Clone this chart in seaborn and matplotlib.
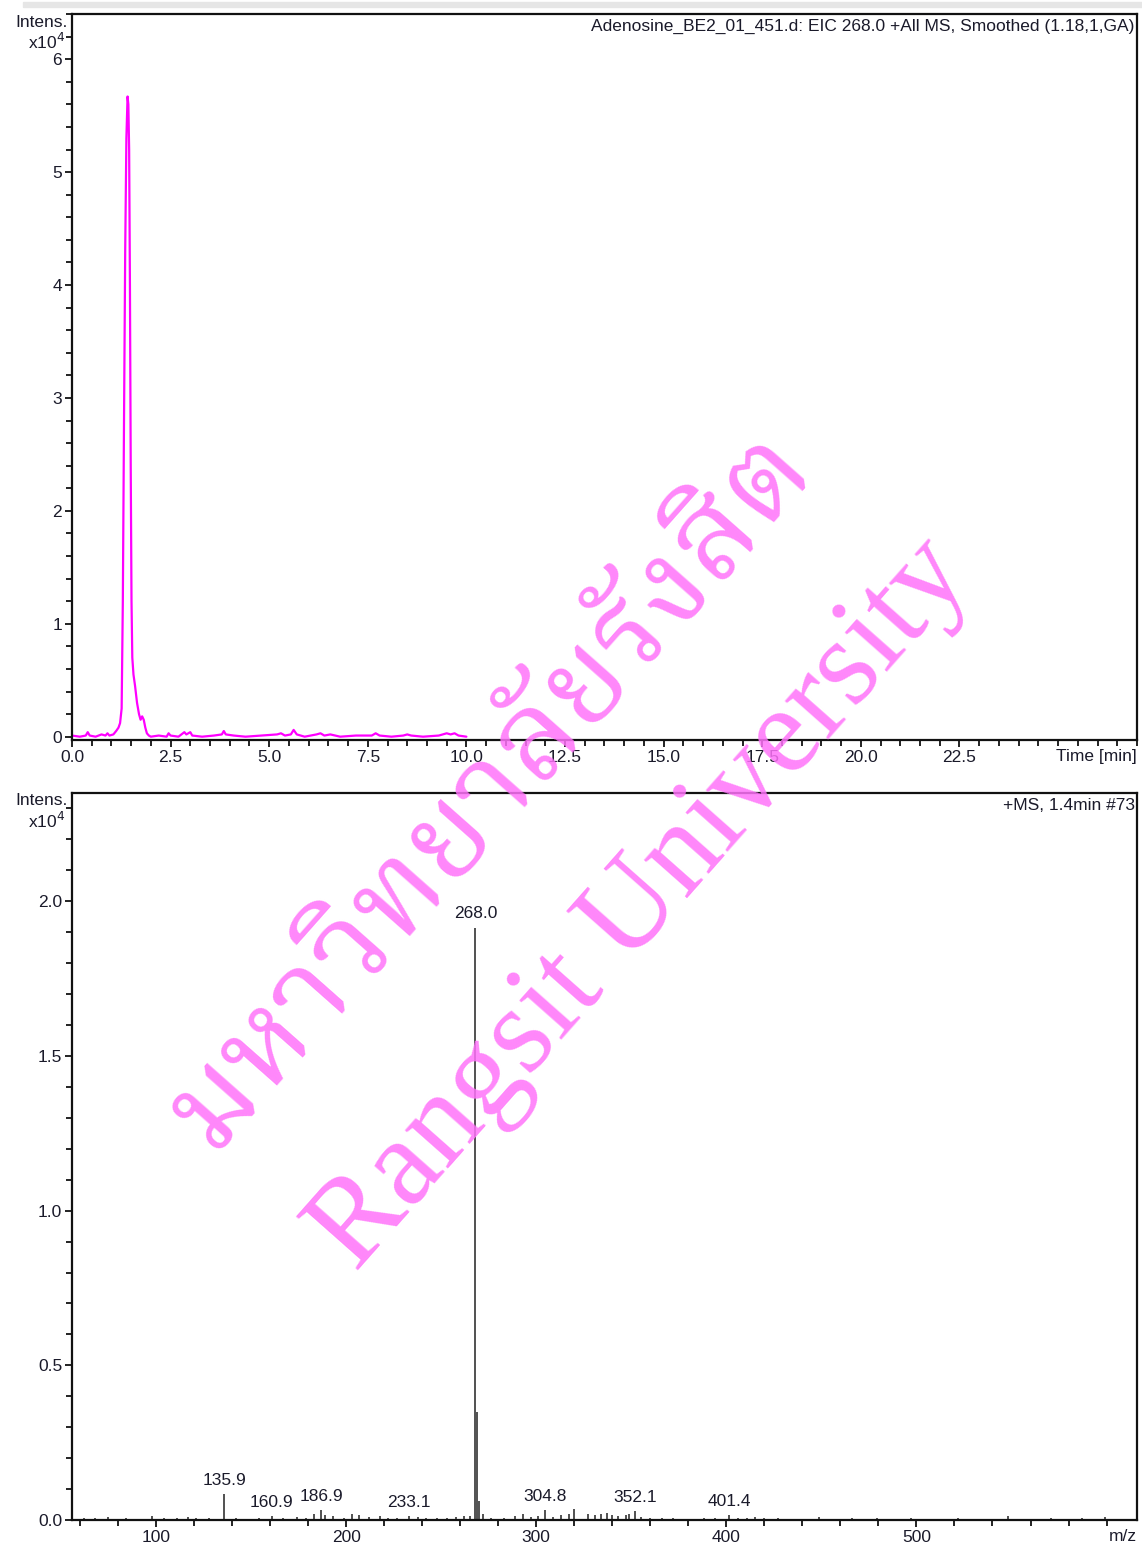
import numpy as np
import pandas as pd
import matplotlib
matplotlib.use("Agg")
import matplotlib.pyplot as plt
from matplotlib.ticker import MultipleLocator, FixedLocator
import seaborn as sns

# ---------------- data ----------------
# EIC 268.0 chromatogram (intensity x10^4)
eic_time = [0.00, 0.20, 0.35, 0.40, 0.45, 0.60, 0.75, 0.85, 0.90, 0.95, 1.05, 1.12,
            1.18, 1.22, 1.26, 1.29, 1.32, 1.35, 1.38, 1.41, 1.43, 1.45, 1.47, 1.49,
            1.51, 1.53, 1.56, 1.60, 1.65, 1.70, 1.74, 1.78, 1.82, 1.86, 1.90, 1.95,
            2.00, 2.20, 2.40, 2.45, 2.50, 2.70, 2.85, 2.90, 3.00, 3.05, 3.30, 3.60,
            3.80, 3.85, 3.90, 4.10, 4.40, 4.80, 5.20, 5.30, 5.40, 5.55, 5.62, 5.70,
            5.90, 6.20, 6.30, 6.40, 6.55, 6.80, 7.20, 7.60, 7.70, 7.80, 8.10, 8.40,
            8.50, 8.60, 8.90, 9.30, 9.50, 9.60, 9.70, 9.80, 10.00]
eic_int = [0.01, 0.00, 0.01, 0.04, 0.01, 0.00, 0.02, 0.01, 0.03, 0.01, 0.02, 0.05,
           0.08, 0.12, 0.25, 1.20, 2.80, 4.30, 5.30, 5.67, 5.60, 5.20, 4.00, 2.40,
           1.20, 0.70, 0.55, 0.45, 0.30, 0.20, 0.15, 0.18, 0.15, 0.08, 0.03, 0.01,
           0.00, 0.01, 0.00, 0.03, 0.01, 0.00, 0.04, 0.02, 0.04, 0.01, 0.00, 0.01,
           0.02, 0.05, 0.02, 0.01, 0.00, 0.01, 0.02, 0.03, 0.01, 0.02, 0.06, 0.02,
           0.00, 0.02, 0.03, 0.01, 0.02, 0.00, 0.01, 0.01, 0.03, 0.01, 0.00, 0.01,
           0.02, 0.01, 0.00, 0.01, 0.03, 0.02, 0.03, 0.01, 0.00]

# +MS spectrum at 1.4 min (intensity x10^4)
ms_mz = [62.0, 68.0, 75.0, 84.0, 91.0, 98.0, 104.0, 111.0, 117.0, 121.0, 128.0,
         135.9, 142.0, 148.0, 154.0, 160.9, 167.0, 174.0, 179.0, 183.0, 186.9, 189.0,
         193.0, 199.0, 203.0, 207.0, 212.0, 218.0, 222.0, 227.0, 233.1, 238.0, 242.0,
         248.0, 253.0, 258.0, 262.0, 265.0, 268.0, 268.6, 270.0, 272.0, 276.0, 283.0,
         289.0, 293.0, 297.0, 301.0, 304.8, 309.0, 313.0, 317.0, 320.0, 327.0, 331.0,
         334.0, 337.0, 340.0, 343.0, 347.0, 349.0, 352.1, 355.0, 360.0, 366.0, 372.0,
         388.0, 394.0, 401.4, 406.0, 411.0, 415.0, 420.0, 427.0, 435.0, 449.0, 466.0,
         479.0, 497.0, 522.0, 548.0, 571.0, 587.0, 599.0]
ms_int = [0.008, 0.005, 0.010, 0.006, 0.004, 0.012, 0.006, 0.005, 0.010, 0.008, 0.006,
          0.085, 0.006, 0.004, 0.008, 0.012, 0.006, 0.010, 0.008, 0.020, 0.032, 0.015,
          0.012, 0.008, 0.020, 0.015, 0.010, 0.012, 0.006, 0.008, 0.014, 0.010, 0.008,
          0.006, 0.008, 0.010, 0.014, 0.012, 1.915, 0.350, 0.060, 0.020, 0.008, 0.006,
          0.012, 0.018, 0.010, 0.012, 0.032, 0.010, 0.015, 0.020, 0.035, 0.020, 0.015,
          0.018, 0.022, 0.016, 0.012, 0.015, 0.020, 0.028, 0.010, 0.006, 0.008, 0.005,
          0.006, 0.008, 0.016, 0.008, 0.006, 0.010, 0.008, 0.006, 0.004, 0.010, 0.006,
          0.005, 0.008, 0.006, 0.012, 0.006, 0.008, 0.010]

peak_labels = ["135.9", "160.9", "186.9", "233.1", "268.0", "304.8", "352.1", "401.4"]
peak_label_y = [0.085, 0.012, 0.032, 0.014, 1.915, 0.032, 0.028, 0.016]

eic_df = pd.DataFrame({"Time": eic_time, "Intens": eic_int})

# ---------------- style ----------------
sns.set_theme(style="white")
plt.rcParams["font.family"] = ["Liberation Sans", "DejaVu Sans"]
txt = "#1a1a2a"
FS = 12.5

fig = plt.figure(figsize=(11.42, 15.46), dpi=100)
ax1 = fig.add_axes([0.063, 0.5213, 0.9326, 0.4696])
ax2 = fig.add_axes([0.063, 0.0168, 0.9326, 0.4703])

# faint grey strip on top of the page
fig.patches.append(plt.Rectangle((0.02, 0.9955), 0.98, 0.003, transform=fig.transFigure,
                                 color="#e6e6e6", zorder=0))

# ---------------- top: chromatogram ----------------
sns.lineplot(data=eic_df, x="Time", y="Intens", ax=ax1, color="#ff00ff",
             linewidth=1.6, estimator=None, sort=False)
ax1.set_xlim(0, 27.0)
ax1.set_ylim(-0.03, 6.4)
ax1.xaxis.set_major_locator(FixedLocator([0, 2.5, 5, 7.5, 10, 12.5, 15, 17.5, 20, 22.5]))
ax1.xaxis.set_minor_locator(MultipleLocator(0.5))
ax1.yaxis.set_major_locator(FixedLocator([0, 1, 2, 3, 4, 5, 6]))
ax1.yaxis.set_minor_locator(MultipleLocator(0.2))
ax1.set_xticklabels(["0.0", "2.5", "5.0", "7.5", "10.0", "12.5", "15.0", "17.5", "20.0", "22.5"])
ax1.set_yticklabels(["0", "1", "2", "3", "4", "5", "6"])
ax1.text(0.998, 0.993, "Adenosine_BE2_01_451.d: EIC 268.0 +All MS, Smoothed (1.18,1,GA)",
         transform=ax1.transAxes, ha="right", va="top", fontsize=FS, color=txt)
ax1.text(1.0, -0.012, "Time [min]", transform=ax1.transAxes, ha="right", va="top",
         fontsize=FS, color=txt)

# ---------------- bottom: mass spectrum ----------------
ax2.vlines(ms_mz, 0, ms_int, color="#222222", linewidth=1.1)
sns.lineplot(x=[55.8, 616.0], y=[0, 0], ax=ax2, color="#222222", linewidth=1.0)
ax2.set_xlim(55.8, 616.0)
ax2.set_ylim(0, 2.35)
ax2.xaxis.set_major_locator(FixedLocator([100, 200, 300, 400, 500]))
ax2.xaxis.set_minor_locator(MultipleLocator(20))
ax2.yaxis.set_major_locator(FixedLocator([0, 0.5, 1.0, 1.5, 2.0]))
ax2.yaxis.set_minor_locator(MultipleLocator(0.1))
ax2.set_xticklabels(["100", "200", "300", "400", "500"])
ax2.set_yticklabels(["0.0", "0.5", "1.0", "1.5", "2.0"])
for lab, yv in zip(peak_labels, peak_label_y):
    ax2.text(float(lab), yv + 0.02, lab, ha="center", va="bottom", fontsize=FS, color=txt)
ax2.text(0.998, 0.993, "+MS, 1.4min #73", transform=ax2.transAxes, ha="right", va="top",
         fontsize=FS, color=txt)
ax2.text(1.0, -0.012, "m/z", transform=ax2.transAxes, ha="right", va="top",
         fontsize=FS, color=txt)

for ax in (ax1, ax2):
    ax.set_xlabel("")
    ax.set_ylabel("")
    for s in ax.spines.values():
        s.set_visible(True)
        s.set_color("#111111")
        s.set_linewidth(1.6)
    ax.tick_params(which="major", direction="out", length=5, width=1.3, color="#111111",
                   labelsize=FS, labelcolor=txt, pad=2, bottom=True, left=True)
    ax.tick_params(which="minor", direction="out", length=4, width=1.3, color="#111111",
                   bottom=True, left=True)
    ax.text(-0.004, 0.989, "Intens.", transform=ax.transAxes, ha="right", va="center",
            fontsize=FS, color=txt)
    ax.text(-0.006, 0.962, r"x10$^4$", transform=ax.transAxes, ha="right", va="center",
            fontsize=FS, color=txt)

# ---------------- watermark ----------------
pink = "#ff72fa"
fig.text(0.428, 0.49, "มหาวิทยาลัยรังสิต", rotation=48.5, ha="center", va="center",
         fontsize=88, color=pink, alpha=0.85, zorder=10,
         family=["Noto Serif Thai", "Noto Sans Thai", "Liberation Serif", "DejaVu Sans"])
fig.text(0.562, 0.415, "Rangsit University", rotation=48.5, ha="center", va="center",
         fontsize=89, color=pink, alpha=0.85, zorder=10, family=["Liberation Serif", "DejaVu Serif"])

fig.savefig("out.png", dpi=100)
